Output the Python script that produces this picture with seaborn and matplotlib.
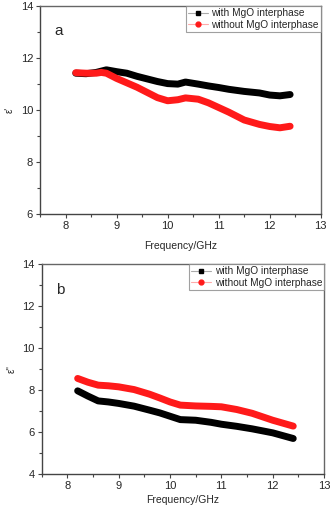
import pandas as pd
import matplotlib
matplotlib.use('Agg')
import matplotlib.pyplot as plt
from matplotlib.lines import Line2D
from matplotlib.ticker import MultipleLocator
import seaborn as sns

# data
freq_a = [8.2, 8.4, 8.6, 8.7, 8.8, 9.0, 9.2, 9.4, 9.6, 9.8, 10.0, 10.2, 10.35, 10.6,
          10.8, 11.0, 11.2, 11.5, 11.8, 12.0, 12.2, 12.4]
with_a = [11.42, 11.40, 11.45, 11.50, 11.55, 11.48, 11.42, 11.30, 11.20, 11.10, 11.02,
          11.00, 11.08, 11.00, 10.93, 10.87, 10.80, 10.72, 10.66, 10.58, 10.55, 10.60]
without_a = [11.44, 11.42, 11.42, 11.45, 11.42, 11.22, 11.05, 10.88, 10.68, 10.48, 10.36,
             10.40, 10.47, 10.42, 10.28, 10.10, 9.92, 9.62, 9.45, 9.37, 9.32, 9.38]

freq_b = [8.2, 8.4, 8.6, 8.8, 9.0, 9.3, 9.6, 9.8, 10.0, 10.2, 10.5, 10.8, 11.0, 11.3,
          11.6, 12.0, 12.4]
with_b = [7.97, 7.72, 7.49, 7.44, 7.37, 7.24, 7.05, 6.92, 6.76, 6.60, 6.57, 6.47, 6.38,
          6.28, 6.16, 5.97, 5.70]
without_b = [8.56, 8.38, 8.24, 8.21, 8.16, 8.03, 7.81, 7.63, 7.44, 7.29, 7.25, 7.23, 7.21,
             7.08, 6.90, 6.57, 6.29]

labels = ['with MgO interphase', 'without MgO interphase']
colors = ['black', '#ff1a1a']

sns.set_style('white')
plt.rcParams['font.family'] = ['Liberation Sans', 'DejaVu Sans']

fig = plt.figure(figsize=(3.31, 5.11), dpi=100)
ax1 = fig.add_axes([0.121, 0.581, 0.848, 0.407])
ax2 = fig.add_axes([0.126, 0.072, 0.853, 0.411])


def draw(ax, freq, w, wo, ylim, ylabel, letter, xpad):
    df = pd.concat([
        pd.DataFrame({'f': freq, 'v': w, 's': labels[0]}),
        pd.DataFrame({'f': freq, 'v': wo, 's': labels[1]}),
    ])
    sns.lineplot(data=df, x='f', y='v', hue='s', palette=colors, linewidth=5,
                 legend=False, ax=ax, solid_capstyle='round')
    ax.set_xlim(7.5, 13)
    ax.set_ylim(*ylim)
    ax.xaxis.set_major_locator(MultipleLocator(1))
    ax.xaxis.set_minor_locator(MultipleLocator(0.5))
    ax.yaxis.set_major_locator(MultipleLocator(2))
    ax.yaxis.set_minor_locator(MultipleLocator(1))
    ax.tick_params(which='both', direction='out', labelsize=8, color='#444444',
                   left=True, bottom=True, pad=2)
    ax.tick_params(which='major', length=3, width=0.8)
    ax.tick_params(which='minor', length=2, width=0.8)
    for side in ['left', 'bottom']:
        ax.spines[side].set_color('#444444')
        ax.spines[side].set_linewidth(1.0)
    for side in ['top', 'right']:
        ax.spines[side].set_color('#666666')
        ax.spines[side].set_linewidth(1.0)
    ax.set_xlabel('Frequency/GHz', fontsize=7.5, labelpad=xpad)
    ax.set_ylabel(ylabel, fontsize=7, labelpad=4)
    ax.text(0.05, 0.86, letter, transform=ax.transAxes, fontsize=11)
    handles = [
        Line2D([], [], color='#aaaaaa', lw=0.8, marker='s', markersize=3,
               markerfacecolor='black', markeredgecolor='black'),
        Line2D([], [], color='#ffaaaa', lw=0.8, marker='o', markersize=3.5,
               markerfacecolor='#ff1a1a', markeredgecolor='#ff1a1a'),
    ]
    leg = ax.legend(handles, labels, loc='upper right', fontsize=7.3, frameon=True,
                    fancybox=False, borderpad=0.2, labelspacing=0.15,
                    handlelength=2.0, handletextpad=0.3, borderaxespad=0)
    leg.get_frame().set_edgecolor('#888888')
    leg.get_frame().set_linewidth(0.8)


draw(ax1, freq_a, with_a, without_a, (6, 14), "\u03b5'", 'a', 7)
draw(ax2, freq_b, with_b, without_b, (4, 14), "\u03b5''", 'b', 3)

fig.savefig('out.png', dpi=100)
